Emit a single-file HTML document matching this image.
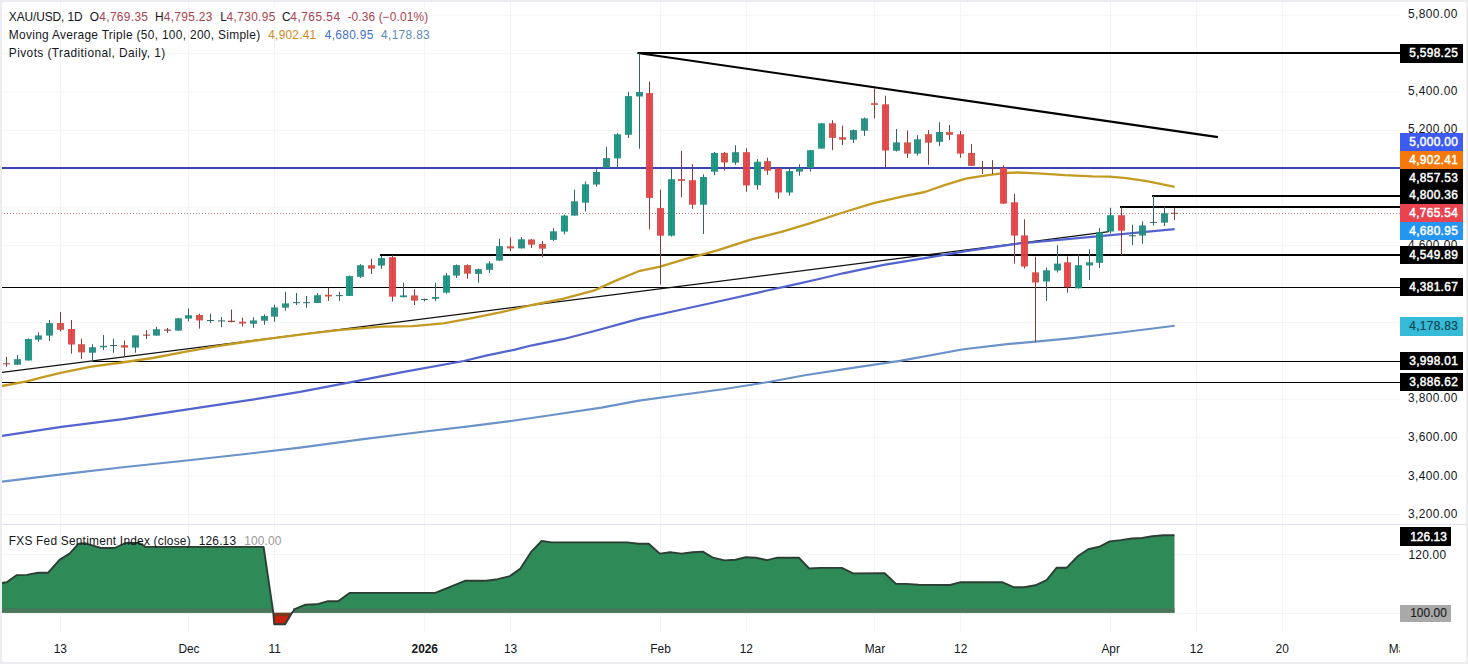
<!DOCTYPE html>
<html><head><meta charset="utf-8"><title>XAU/USD</title>
<style>
html,body{margin:0;padding:0;background:#fff;}
body{width:1468px;height:664px;overflow:hidden;position:relative;font-family:"Liberation Sans",sans-serif;color:#131722;}
#frame{position:absolute;left:0;top:0;width:1468px;height:664px;box-sizing:border-box;border:2px solid #ececf1;border-radius:5px;box-shadow:0 0 0 5px #ececf1;pointer-events:none;z-index:9}
#plot{position:absolute;left:0;top:0;width:1400px;height:664px;overflow:hidden}
.sep{position:absolute;left:0;top:524px;width:1466px;height:1px;background:#e0e3eb}
.sg{position:absolute;line-height:16px;height:16px;white-space:pre;font-family:"Liberation Sans",sans-serif}
.lb{position:absolute;left:1400px;overflow:hidden}
.lt{-webkit-text-stroke:0.45px currentColor}
.lt2{-webkit-text-stroke:0.15px currentColor}
</style></head><body>
<div id="plot">
<svg width="1400" height="664" viewBox="0 0 1400 664" style="position:absolute;left:0;top:0">
<line x1="60.5" y1="2" x2="60.5" y2="632" stroke="#f3f4f6" stroke-width="1"/>
<line x1="188.5" y1="2" x2="188.5" y2="632" stroke="#f3f4f6" stroke-width="1"/>
<line x1="274.5" y1="2" x2="274.5" y2="632" stroke="#f3f4f6" stroke-width="1"/>
<line x1="424.5" y1="2" x2="424.5" y2="632" stroke="#f3f4f6" stroke-width="1"/>
<line x1="510.5" y1="2" x2="510.5" y2="632" stroke="#f3f4f6" stroke-width="1"/>
<line x1="660.5" y1="2" x2="660.5" y2="632" stroke="#f3f4f6" stroke-width="1"/>
<line x1="746.5" y1="2" x2="746.5" y2="632" stroke="#f3f4f6" stroke-width="1"/>
<line x1="874.5" y1="2" x2="874.5" y2="632" stroke="#f3f4f6" stroke-width="1"/>
<line x1="960.5" y1="2" x2="960.5" y2="632" stroke="#f3f4f6" stroke-width="1"/>
<line x1="1110.5" y1="2" x2="1110.5" y2="632" stroke="#f3f4f6" stroke-width="1"/>
<line x1="1196.5" y1="2" x2="1196.5" y2="632" stroke="#f3f4f6" stroke-width="1"/>
<line x1="1282.5" y1="2" x2="1282.5" y2="632" stroke="#f3f4f6" stroke-width="1"/>
<line x1="1400.5" y1="2" x2="1400.5" y2="632" stroke="#f3f4f6" stroke-width="1"/>
<line x1="0" y1="15.20" x2="1400" y2="15.20" stroke="#f3f4f6" stroke-width="1"/>
<line x1="0" y1="53.61" x2="1400" y2="53.61" stroke="#f3f4f6" stroke-width="1"/>
<line x1="0" y1="92.02" x2="1400" y2="92.02" stroke="#f3f4f6" stroke-width="1"/>
<line x1="0" y1="130.42" x2="1400" y2="130.42" stroke="#f3f4f6" stroke-width="1"/>
<line x1="0" y1="168.83" x2="1400" y2="168.83" stroke="#f3f4f6" stroke-width="1"/>
<line x1="0" y1="207.24" x2="1400" y2="207.24" stroke="#f3f4f6" stroke-width="1"/>
<line x1="0" y1="245.65" x2="1400" y2="245.65" stroke="#f3f4f6" stroke-width="1"/>
<line x1="0" y1="284.06" x2="1400" y2="284.06" stroke="#f3f4f6" stroke-width="1"/>
<line x1="0" y1="322.46" x2="1400" y2="322.46" stroke="#f3f4f6" stroke-width="1"/>
<line x1="0" y1="360.87" x2="1400" y2="360.87" stroke="#f3f4f6" stroke-width="1"/>
<line x1="0" y1="399.28" x2="1400" y2="399.28" stroke="#f3f4f6" stroke-width="1"/>
<line x1="0" y1="437.69" x2="1400" y2="437.69" stroke="#f3f4f6" stroke-width="1"/>
<line x1="0" y1="476.10" x2="1400" y2="476.10" stroke="#f3f4f6" stroke-width="1"/>
<line x1="0" y1="514.50" x2="1400" y2="514.50" stroke="#f3f4f6" stroke-width="1"/>
<line x1="0" y1="554.5" x2="1400" y2="554.5" stroke="#f3f4f6" stroke-width="1"/>
<line x1="0" y1="613.5" x2="1400" y2="613.5" stroke="#f3f4f6" stroke-width="1"/>
<defs><clipPath id="up"><rect x="0" y="520" width="1400" height="92.79999999999995"/></clipPath><clipPath id="dn"><rect x="0" y="612.8" width="1400" height="40"/></clipPath></defs>
<polygon points="-2.0,583.0 1.8,583.0 6.7,582.3 16.8,575.1 26.9,574.9 38.1,572.7 48.2,572.7 59.5,559.9 69.6,553.6 78.5,543.7 85.3,543.3 101.0,548.0 114.4,548.0 125.6,543.0 139.1,543.0 145.8,546.9 263.6,546.9 273.3,612.6 274.2,624.3 285.1,624.3 291.7,613.2 295.3,608.8 305.5,604.7 316.8,604.3 328.0,601.2 338.2,601.2 349.5,592.9 435.3,592.9 465.0,580.8 486.4,580.8 497.7,579.2 509.9,576.1 520.1,568.9 531.4,551.6 541.6,541.0 551.8,542.4 627.2,542.4 638.5,543.8 648.7,543.8 659.9,553.6 670.1,552.2 681.4,553.6 692.6,552.2 702.8,551.6 713.1,557.7 724.3,560.4 735.5,559.7 745.8,557.3 756.0,557.7 767.2,560.2 777.4,557.7 798.9,557.7 809.1,568.5 820.4,567.9 841.8,567.9 853.1,573.4 884.7,573.3 896.0,583.9 906.1,583.9 918.5,584.8 949.9,585.0 960.0,582.3 1002.8,582.3 1014.0,587.3 1024.1,587.3 1035.4,585.3 1046.6,580.1 1056.7,567.7 1066.8,567.7 1078.1,556.0 1088.2,549.3 1099.4,546.8 1109.6,541.4 1120.8,540.1 1132.0,538.5 1142.2,538.0 1152.3,536.2 1163.5,535.3 1174.5,535.3 1174.5,612.8 -2,612.8" fill="#2e8b57" clip-path="url(#up)"/>
<polygon points="-2.0,583.0 1.8,583.0 6.7,582.3 16.8,575.1 26.9,574.9 38.1,572.7 48.2,572.7 59.5,559.9 69.6,553.6 78.5,543.7 85.3,543.3 101.0,548.0 114.4,548.0 125.6,543.0 139.1,543.0 145.8,546.9 263.6,546.9 273.3,612.6 274.2,624.3 285.1,624.3 291.7,613.2 295.3,608.8 305.5,604.7 316.8,604.3 328.0,601.2 338.2,601.2 349.5,592.9 435.3,592.9 465.0,580.8 486.4,580.8 497.7,579.2 509.9,576.1 520.1,568.9 531.4,551.6 541.6,541.0 551.8,542.4 627.2,542.4 638.5,543.8 648.7,543.8 659.9,553.6 670.1,552.2 681.4,553.6 692.6,552.2 702.8,551.6 713.1,557.7 724.3,560.4 735.5,559.7 745.8,557.3 756.0,557.7 767.2,560.2 777.4,557.7 798.9,557.7 809.1,568.5 820.4,567.9 841.8,567.9 853.1,573.4 884.7,573.3 896.0,583.9 906.1,583.9 918.5,584.8 949.9,585.0 960.0,582.3 1002.8,582.3 1014.0,587.3 1024.1,587.3 1035.4,585.3 1046.6,580.1 1056.7,567.7 1066.8,567.7 1078.1,556.0 1088.2,549.3 1099.4,546.8 1109.6,541.4 1120.8,540.1 1132.0,538.5 1142.2,538.0 1152.3,536.2 1163.5,535.3 1174.5,535.3 1174.5,612.8 -2,612.8" fill="#c8200c" clip-path="url(#dn)"/>
<rect x="0" y="608.3" width="271.5" height="4.5" fill="#47775a"/>
<rect x="293" y="608.3" width="881.5" height="4.5" fill="#47775a"/>
<rect x="273.5" y="612.8" width="17" height="3.4" fill="#7a3a1c"/>
<polyline points="-2.0,583.0 1.8,583.0 6.7,582.3 16.8,575.1 26.9,574.9 38.1,572.7 48.2,572.7 59.5,559.9 69.6,553.6 78.5,543.7 85.3,543.3 101.0,548.0 114.4,548.0 125.6,543.0 139.1,543.0 145.8,546.9 263.6,546.9 273.3,612.6 274.2,624.3 285.1,624.3 291.7,613.2 295.3,608.8 305.5,604.7 316.8,604.3 328.0,601.2 338.2,601.2 349.5,592.9 435.3,592.9 465.0,580.8 486.4,580.8 497.7,579.2 509.9,576.1 520.1,568.9 531.4,551.6 541.6,541.0 551.8,542.4 627.2,542.4 638.5,543.8 648.7,543.8 659.9,553.6 670.1,552.2 681.4,553.6 692.6,552.2 702.8,551.6 713.1,557.7 724.3,560.4 735.5,559.7 745.8,557.3 756.0,557.7 767.2,560.2 777.4,557.7 798.9,557.7 809.1,568.5 820.4,567.9 841.8,567.9 853.1,573.4 884.7,573.3 896.0,583.9 906.1,583.9 918.5,584.8 949.9,585.0 960.0,582.3 1002.8,582.3 1014.0,587.3 1024.1,587.3 1035.4,585.3 1046.6,580.1 1056.7,567.7 1066.8,567.7 1078.1,556.0 1088.2,549.3 1099.4,546.8 1109.6,541.4 1120.8,540.1 1132.0,538.5 1142.2,538.0 1152.3,536.2 1163.5,535.3 1174.5,535.3" fill="none" stroke="#2b3f35" stroke-width="1.9" stroke-linejoin="round"/>
<line x1="1" y1="213.5" x2="1400" y2="213.5" stroke="#c48682" stroke-width="1" stroke-dasharray="1 2"/>
<rect x="0" y="167" width="1400" height="2" fill="#3c42b4"/>
<rect x="637.5" y="52" width="762.5" height="2" fill="#000"/>
<rect x="380" y="254" width="1020" height="2" fill="#000"/>
<rect x="0" y="287" width="1400" height="1" fill="#000"/>
<rect x="92.6" y="361" width="1307.4" height="1" fill="#000"/>
<rect x="0" y="382" width="1400" height="1" fill="#000"/>
<rect x="1152" y="195" width="248" height="2" fill="#000"/>
<rect x="1120" y="206" width="280" height="2" fill="#000"/>
<line x1="637.7" y1="53" x2="1218" y2="137.1" stroke="#000" stroke-width="2.1" stroke-linecap="butt"/>
<line x1="0" y1="372.7" x2="1109" y2="231.7" stroke="#111" stroke-width="1.25"/>
<polyline points="2.0,481.6 61.4,474.4 122.9,467.3 184.3,460.7 245.8,454.0 300.0,447.6 361.4,439.4 422.9,431.8 468.6,426.4 511.1,421.0 557.1,414.3 601.4,407.6 638.9,400.6 681.9,394.7 722.9,389.2 770.0,381.8 804.8,375.2 856.0,367.4 900.0,360.9 963.5,349.3 1007.1,344.1 1035.7,341.6 1072.5,338.1 1127.0,331.8 1174.7,325.8" fill="none" stroke="#6b93c9" stroke-width="2.1" stroke-linejoin="round"/>
<polyline points="2.0,435.9 61.4,426.9 122.9,419.1 184.3,409.9 245.8,400.7 300.0,391.8 351.2,382.1 402.4,372.2 463.8,361.0 487.1,355.4 515.0,349.6 532.2,345.3 562.9,339.2 593.6,331.3 638.9,318.9 681.9,309.5 722.9,300.5 763.8,291.3 789.6,285.6 821.2,278.5 842.9,273.3 883.8,264.9 924.8,258.1 965.8,251.2 1018.0,243.6 1072.5,238.6 1127.0,233.7 1174.7,229.1" fill="none" stroke="#5364cf" stroke-width="2.2" stroke-linejoin="round"/>
<polyline points="2.0,386.0 26.6,381.3 40.0,377.8 60.5,372.9 91.2,366.6 121.9,362.5 152.6,358.0 183.4,352.2 214.1,346.7 244.8,342.0 275.5,337.9 306.2,333.8 341.0,329.8 381.9,326.6 412.6,326.1 443.4,323.4 470.7,318.3 501.4,312.2 532.2,305.0 562.9,298.8 593.6,290.7 614.1,281.4 638.7,271.2 660.2,266.7 685.8,258.9 716.5,250.7 750.7,239.6 781.4,231.9 812.2,222.7 842.9,212.5 873.6,203.2 904.3,196.1 924.8,192.0 945.3,184.8 965.8,178.7 986.2,175.3 1003.6,173.2 1017.2,172.5 1037.7,173.4 1064.9,175.2 1092.2,176.3 1109.9,176.6 1126.2,178.2 1146.7,181.1 1160.3,183.8 1174.6,186.8" fill="none" stroke="#c39a22" stroke-width="2.3" stroke-linejoin="round"/>
<rect x="6" y="356.90" width="1" height="9.90" fill="#8c3b36"/>
<rect x="3" y="363.30" width="7" height="1.00" fill="#8c3b36" fill-opacity="0.94"/>
<rect x="17" y="355.10" width="1" height="9.60" fill="#2f6566"/>
<rect x="14" y="359.20" width="7" height="5.50" fill="#238a7e" fill-opacity="0.94"/>
<rect x="28" y="338.50" width="1" height="22.00" fill="#2f6566"/>
<rect x="25" y="339.00" width="7" height="21.50" fill="#17937f" fill-opacity="0.94"/>
<rect x="38" y="332.20" width="1" height="9.60" fill="#2f6566"/>
<rect x="35" y="335.40" width="7" height="4.30" fill="#238a7e" fill-opacity="0.94"/>
<rect x="49" y="320.00" width="1" height="21.00" fill="#2f6566"/>
<rect x="46" y="323.10" width="7" height="12.50" fill="#238a7e" fill-opacity="0.94"/>
<rect x="60" y="312.00" width="1" height="19.50" fill="#8c3b36"/>
<rect x="57" y="323.00" width="7" height="6.80" fill="#d54b43" fill-opacity="0.94"/>
<rect x="71" y="320.00" width="1" height="33.70" fill="#8c3b36"/>
<rect x="68" y="329.00" width="7" height="15.50" fill="#e24244" fill-opacity="0.94"/>
<rect x="81" y="338.80" width="1" height="20.00" fill="#8c3b36"/>
<rect x="78" y="344.20" width="7" height="8.20" fill="#d54b43" fill-opacity="0.94"/>
<rect x="92" y="344.20" width="1" height="15.80" fill="#2f6566"/>
<rect x="89" y="347.20" width="7" height="5.50" fill="#238a7e" fill-opacity="0.94"/>
<rect x="103" y="335.00" width="1" height="15.00" fill="#2f6566"/>
<rect x="100" y="345.80" width="7" height="1.50" fill="#238a7e" fill-opacity="0.94"/>
<rect x="113" y="338.80" width="1" height="13.90" fill="#2f6566"/>
<rect x="110" y="345.00" width="7" height="1.00" fill="#2f6566" fill-opacity="0.94"/>
<rect x="124" y="340.40" width="1" height="16.30" fill="#8c3b36"/>
<rect x="121" y="345.20" width="7" height="2.40" fill="#d54b43" fill-opacity="0.94"/>
<rect x="135" y="335.40" width="1" height="17.30" fill="#2f6566"/>
<rect x="132" y="335.40" width="7" height="12.20" fill="#238a7e" fill-opacity="0.94"/>
<rect x="146" y="330.00" width="1" height="9.00" fill="#8c3b36"/>
<rect x="143" y="334.60" width="7" height="1.00" fill="#8c3b36" fill-opacity="0.94"/>
<rect x="156" y="326.80" width="1" height="8.80" fill="#2f6566"/>
<rect x="153" y="329.20" width="7" height="6.40" fill="#238a7e" fill-opacity="0.94"/>
<rect x="167" y="328.00" width="1" height="5.00" fill="#8c3b36"/>
<rect x="164" y="329.50" width="7" height="1.20" fill="#8c3b36" fill-opacity="0.94"/>
<rect x="178" y="318.00" width="1" height="13.00" fill="#2f6566"/>
<rect x="175" y="318.30" width="7" height="12.30" fill="#238a7e" fill-opacity="0.94"/>
<rect x="188" y="308.40" width="1" height="12.90" fill="#2f6566"/>
<rect x="185" y="315.20" width="7" height="3.40" fill="#238a7e" fill-opacity="0.94"/>
<rect x="199" y="313.60" width="1" height="15.00" fill="#8c3b36"/>
<rect x="196" y="315.00" width="7" height="5.40" fill="#d54b43" fill-opacity="0.94"/>
<rect x="210" y="313.60" width="1" height="9.40" fill="#2f6566"/>
<rect x="207" y="320.00" width="7" height="1.00" fill="#2f6566" fill-opacity="0.94"/>
<rect x="221" y="317.00" width="1" height="10.20" fill="#2f6566"/>
<rect x="218" y="320.40" width="7" height="1.00" fill="#2f6566" fill-opacity="0.94"/>
<rect x="231" y="309.50" width="1" height="12.90" fill="#8c3b36"/>
<rect x="228" y="320.70" width="7" height="1.30" fill="#8c3b36" fill-opacity="0.94"/>
<rect x="242" y="317.70" width="1" height="8.80" fill="#8c3b36"/>
<rect x="239" y="321.70" width="7" height="1.90" fill="#d54b43" fill-opacity="0.94"/>
<rect x="253" y="317.40" width="1" height="10.50" fill="#2f6566"/>
<rect x="250" y="320.40" width="7" height="3.40" fill="#238a7e" fill-opacity="0.94"/>
<rect x="264" y="314.30" width="1" height="10.40" fill="#2f6566"/>
<rect x="261" y="316.00" width="7" height="4.70" fill="#238a7e" fill-opacity="0.94"/>
<rect x="274" y="304.70" width="1" height="17.00" fill="#2f6566"/>
<rect x="271" y="307.40" width="7" height="9.30" fill="#238a7e" fill-opacity="0.94"/>
<rect x="285" y="291.80" width="1" height="19.00" fill="#2f6566"/>
<rect x="282" y="303.40" width="7" height="4.30" fill="#238a7e" fill-opacity="0.94"/>
<rect x="296" y="293.00" width="1" height="12.00" fill="#2f6566"/>
<rect x="293" y="302.20" width="7" height="1.00" fill="#2f6566" fill-opacity="0.94"/>
<rect x="306" y="296.00" width="1" height="11.70" fill="#2f6566"/>
<rect x="303" y="302.20" width="7" height="1.00" fill="#2f6566" fill-opacity="0.94"/>
<rect x="317" y="293.00" width="1" height="10.00" fill="#2f6566"/>
<rect x="314" y="295.20" width="7" height="7.80" fill="#238a7e" fill-opacity="0.94"/>
<rect x="328" y="287.70" width="1" height="13.20" fill="#8c3b36"/>
<rect x="325" y="294.80" width="7" height="1.70" fill="#d54b43" fill-opacity="0.94"/>
<rect x="339" y="291.80" width="1" height="9.10" fill="#2f6566"/>
<rect x="336" y="295.10" width="7" height="1.00" fill="#2f6566" fill-opacity="0.94"/>
<rect x="349" y="275.50" width="1" height="20.50" fill="#2f6566"/>
<rect x="346" y="276.10" width="7" height="19.80" fill="#17937f" fill-opacity="0.94"/>
<rect x="360" y="264.20" width="1" height="13.70" fill="#2f6566"/>
<rect x="357" y="265.20" width="7" height="11.60" fill="#238a7e" fill-opacity="0.94"/>
<rect x="371" y="258.80" width="1" height="15.20" fill="#8c3b36"/>
<rect x="368" y="265.20" width="7" height="3.40" fill="#d54b43" fill-opacity="0.94"/>
<rect x="381" y="256.00" width="1" height="12.90" fill="#2f6566"/>
<rect x="378" y="258.10" width="7" height="7.50" fill="#238a7e" fill-opacity="0.94"/>
<rect x="392" y="255.20" width="1" height="46.30" fill="#8c3b36"/>
<rect x="389" y="257.20" width="7" height="39.50" fill="#e24244" fill-opacity="0.94"/>
<rect x="403" y="282.70" width="1" height="14.70" fill="#2f6566"/>
<rect x="400" y="295.40" width="7" height="1.80" fill="#238a7e" fill-opacity="0.94"/>
<rect x="414" y="289.30" width="1" height="15.70" fill="#8c3b36"/>
<rect x="411" y="295.40" width="7" height="5.20" fill="#d54b43" fill-opacity="0.94"/>
<rect x="424" y="298.60" width="1" height="2.70" fill="#2f6566"/>
<rect x="421" y="299.00" width="7" height="1.00" fill="#2f6566" fill-opacity="0.94"/>
<rect x="435" y="282.70" width="1" height="18.40" fill="#2f6566"/>
<rect x="432" y="297.00" width="7" height="1.80" fill="#238a7e" fill-opacity="0.94"/>
<rect x="446" y="272.90" width="1" height="20.80" fill="#2f6566"/>
<rect x="443" y="275.40" width="7" height="17.30" fill="#17937f" fill-opacity="0.94"/>
<rect x="456" y="264.50" width="1" height="13.50" fill="#2f6566"/>
<rect x="453" y="265.10" width="7" height="10.50" fill="#238a7e" fill-opacity="0.94"/>
<rect x="467" y="264.30" width="1" height="14.50" fill="#8c3b36"/>
<rect x="464" y="265.10" width="7" height="8.50" fill="#d54b43" fill-opacity="0.94"/>
<rect x="478" y="268.50" width="1" height="14.20" fill="#2f6566"/>
<rect x="475" y="269.20" width="7" height="4.70" fill="#238a7e" fill-opacity="0.94"/>
<rect x="489" y="261.30" width="1" height="11.60" fill="#2f6566"/>
<rect x="486" y="263.40" width="7" height="6.40" fill="#238a7e" fill-opacity="0.94"/>
<rect x="499" y="238.80" width="1" height="22.20" fill="#2f6566"/>
<rect x="496" y="246.10" width="7" height="14.50" fill="#238a7e" fill-opacity="0.94"/>
<rect x="510" y="237.50" width="1" height="13.60" fill="#8c3b36"/>
<rect x="507" y="246.30" width="7" height="2.10" fill="#d54b43" fill-opacity="0.94"/>
<rect x="521" y="237.10" width="1" height="11.30" fill="#2f6566"/>
<rect x="518" y="239.30" width="7" height="9.10" fill="#238a7e" fill-opacity="0.94"/>
<rect x="531" y="239.00" width="1" height="9.00" fill="#8c3b36"/>
<rect x="528" y="239.50" width="7" height="5.20" fill="#d54b43" fill-opacity="0.94"/>
<rect x="542" y="240.90" width="1" height="16.30" fill="#8c3b36"/>
<rect x="539" y="244.00" width="7" height="4.70" fill="#d54b43" fill-opacity="0.94"/>
<rect x="553" y="228.20" width="1" height="12.70" fill="#2f6566"/>
<rect x="550" y="231.30" width="7" height="8.60" fill="#238a7e" fill-opacity="0.94"/>
<rect x="564" y="214.60" width="1" height="19.70" fill="#2f6566"/>
<rect x="561" y="215.60" width="7" height="16.00" fill="#17937f" fill-opacity="0.94"/>
<rect x="574" y="189.70" width="1" height="25.90" fill="#2f6566"/>
<rect x="571" y="201.30" width="7" height="14.30" fill="#238a7e" fill-opacity="0.94"/>
<rect x="585" y="181.50" width="1" height="30.00" fill="#2f6566"/>
<rect x="582" y="184.30" width="7" height="18.40" fill="#17937f" fill-opacity="0.94"/>
<rect x="596" y="169.30" width="1" height="17.30" fill="#2f6566"/>
<rect x="593" y="172.00" width="7" height="12.50" fill="#238a7e" fill-opacity="0.94"/>
<rect x="606" y="146.80" width="1" height="21.20" fill="#2f6566"/>
<rect x="603" y="158.10" width="7" height="9.80" fill="#238a7e" fill-opacity="0.94"/>
<rect x="617" y="133.20" width="1" height="35.40" fill="#2f6566"/>
<rect x="614" y="134.30" width="7" height="24.10" fill="#17937f" fill-opacity="0.94"/>
<rect x="628" y="91.80" width="1" height="46.20" fill="#2f6566"/>
<rect x="625" y="96.10" width="7" height="38.70" fill="#17937f" fill-opacity="0.94"/>
<rect x="639" y="53.20" width="1" height="95.60" fill="#2f6566"/>
<rect x="636" y="92.00" width="7" height="4.50" fill="#238a7e" fill-opacity="0.94"/>
<rect x="649" y="81.60" width="1" height="147.70" fill="#8c3b36"/>
<rect x="646" y="93.10" width="7" height="104.80" fill="#e24244" fill-opacity="0.94"/>
<rect x="660" y="189.70" width="1" height="95.00" fill="#8c3b36"/>
<rect x="657" y="208.10" width="7" height="27.60" fill="#e24244" fill-opacity="0.94"/>
<rect x="671" y="167.90" width="1" height="68.70" fill="#2f6566"/>
<rect x="668" y="179.20" width="7" height="56.50" fill="#17937f" fill-opacity="0.94"/>
<rect x="681" y="150.90" width="1" height="46.30" fill="#8c3b36"/>
<rect x="678" y="179.10" width="7" height="1.80" fill="#d54b43" fill-opacity="0.94"/>
<rect x="692" y="164.20" width="1" height="44.60" fill="#8c3b36"/>
<rect x="689" y="180.20" width="7" height="24.50" fill="#e24244" fill-opacity="0.94"/>
<rect x="703" y="174.30" width="1" height="59.60" fill="#2f6566"/>
<rect x="700" y="177.00" width="7" height="27.70" fill="#17937f" fill-opacity="0.94"/>
<rect x="714" y="152.00" width="1" height="23.10" fill="#2f6566"/>
<rect x="711" y="152.90" width="7" height="18.80" fill="#17937f" fill-opacity="0.94"/>
<rect x="724" y="152.00" width="1" height="18.60" fill="#8c3b36"/>
<rect x="721" y="152.90" width="7" height="9.60" fill="#d54b43" fill-opacity="0.94"/>
<rect x="735" y="145.20" width="1" height="19.60" fill="#2f6566"/>
<rect x="732" y="152.20" width="7" height="10.50" fill="#238a7e" fill-opacity="0.94"/>
<rect x="746" y="148.40" width="1" height="43.40" fill="#8c3b36"/>
<rect x="743" y="152.20" width="7" height="33.20" fill="#e24244" fill-opacity="0.94"/>
<rect x="757" y="159.10" width="1" height="30.60" fill="#2f6566"/>
<rect x="754" y="161.80" width="7" height="23.40" fill="#17937f" fill-opacity="0.94"/>
<rect x="767" y="157.70" width="1" height="17.00" fill="#8c3b36"/>
<rect x="764" y="161.10" width="7" height="9.60" fill="#d54b43" fill-opacity="0.94"/>
<rect x="778" y="168.00" width="1" height="30.60" fill="#8c3b36"/>
<rect x="775" y="168.60" width="7" height="23.90" fill="#e24244" fill-opacity="0.94"/>
<rect x="789" y="167.20" width="1" height="28.40" fill="#2f6566"/>
<rect x="786" y="171.10" width="7" height="21.40" fill="#17937f" fill-opacity="0.94"/>
<rect x="799" y="164.30" width="1" height="11.40" fill="#2f6566"/>
<rect x="796" y="167.90" width="7" height="3.70" fill="#238a7e" fill-opacity="0.94"/>
<rect x="810" y="150.00" width="1" height="21.60" fill="#2f6566"/>
<rect x="807" y="150.20" width="7" height="17.70" fill="#17937f" fill-opacity="0.94"/>
<rect x="821" y="123.00" width="1" height="25.60" fill="#2f6566"/>
<rect x="818" y="123.30" width="7" height="25.30" fill="#17937f" fill-opacity="0.94"/>
<rect x="832" y="120.20" width="1" height="30.00" fill="#8c3b36"/>
<rect x="829" y="123.30" width="7" height="14.60" fill="#d54b43" fill-opacity="0.94"/>
<rect x="842" y="125.60" width="1" height="19.50" fill="#8c3b36"/>
<rect x="839" y="137.20" width="7" height="2.50" fill="#d54b43" fill-opacity="0.94"/>
<rect x="853" y="129.50" width="1" height="13.50" fill="#2f6566"/>
<rect x="850" y="130.10" width="7" height="9.60" fill="#238a7e" fill-opacity="0.94"/>
<rect x="864" y="117.50" width="1" height="18.40" fill="#2f6566"/>
<rect x="861" y="118.40" width="7" height="12.30" fill="#238a7e" fill-opacity="0.94"/>
<rect x="874" y="88.20" width="1" height="30.20" fill="#8c3b36"/>
<rect x="871" y="103.20" width="7" height="1.70" fill="#d54b43" fill-opacity="0.94"/>
<rect x="885" y="95.70" width="1" height="72.20" fill="#8c3b36"/>
<rect x="882" y="104.30" width="7" height="46.20" fill="#e24244" fill-opacity="0.94"/>
<rect x="896" y="129.00" width="1" height="22.50" fill="#2f6566"/>
<rect x="893" y="142.40" width="7" height="8.40" fill="#238a7e" fill-opacity="0.94"/>
<rect x="907" y="130.40" width="1" height="27.50" fill="#8c3b36"/>
<rect x="904" y="142.40" width="7" height="11.20" fill="#d54b43" fill-opacity="0.94"/>
<rect x="917" y="135.20" width="1" height="20.40" fill="#2f6566"/>
<rect x="914" y="139.30" width="7" height="14.30" fill="#238a7e" fill-opacity="0.94"/>
<rect x="928" y="130.10" width="1" height="34.70" fill="#8c3b36"/>
<rect x="925" y="134.20" width="7" height="8.50" fill="#d54b43" fill-opacity="0.94"/>
<rect x="939" y="122.20" width="1" height="23.90" fill="#2f6566"/>
<rect x="936" y="132.00" width="7" height="9.80" fill="#238a7e" fill-opacity="0.94"/>
<rect x="949" y="125.00" width="1" height="15.00" fill="#8c3b36"/>
<rect x="946" y="132.10" width="7" height="2.80" fill="#d54b43" fill-opacity="0.94"/>
<rect x="960" y="131.10" width="1" height="26.60" fill="#8c3b36"/>
<rect x="957" y="134.30" width="7" height="19.30" fill="#e24244" fill-opacity="0.94"/>
<rect x="971" y="144.10" width="1" height="21.90" fill="#8c3b36"/>
<rect x="968" y="152.90" width="7" height="13.00" fill="#d54b43" fill-opacity="0.94"/>
<rect x="982" y="161.10" width="1" height="12.90" fill="#8c3b36"/>
<rect x="979" y="167.40" width="7" height="1.00" fill="#8c3b36" fill-opacity="0.94"/>
<rect x="992" y="160.10" width="1" height="13.90" fill="#8c3b36"/>
<rect x="989" y="167.40" width="7" height="1.00" fill="#8c3b36" fill-opacity="0.94"/>
<rect x="1003" y="165.20" width="1" height="38.80" fill="#8c3b36"/>
<rect x="1000" y="167.90" width="7" height="35.70" fill="#e24244" fill-opacity="0.94"/>
<rect x="1014" y="193.80" width="1" height="69.80" fill="#8c3b36"/>
<rect x="1011" y="202.30" width="7" height="33.30" fill="#e24244" fill-opacity="0.94"/>
<rect x="1024" y="219.30" width="1" height="49.20" fill="#8c3b36"/>
<rect x="1021" y="235.40" width="7" height="31.10" fill="#e24244" fill-opacity="0.94"/>
<rect x="1035" y="256.80" width="1" height="84.90" fill="#8c3b36"/>
<rect x="1032" y="272.30" width="7" height="10.20" fill="#d54b43" fill-opacity="0.94"/>
<rect x="1046" y="267.50" width="1" height="33.40" fill="#2f6566"/>
<rect x="1043" y="270.30" width="7" height="11.20" fill="#238a7e" fill-opacity="0.94"/>
<rect x="1057" y="245.20" width="1" height="27.30" fill="#2f6566"/>
<rect x="1054" y="263.60" width="7" height="6.90" fill="#238a7e" fill-opacity="0.94"/>
<rect x="1067" y="256.30" width="1" height="36.40" fill="#8c3b36"/>
<rect x="1064" y="262.30" width="7" height="24.90" fill="#e24244" fill-opacity="0.94"/>
<rect x="1078" y="255.10" width="1" height="33.40" fill="#2f6566"/>
<rect x="1075" y="265.20" width="7" height="23.10" fill="#17937f" fill-opacity="0.94"/>
<rect x="1089" y="249.30" width="1" height="30.50" fill="#2f6566"/>
<rect x="1086" y="262.30" width="7" height="3.20" fill="#238a7e" fill-opacity="0.94"/>
<rect x="1099" y="228.10" width="1" height="39.90" fill="#2f6566"/>
<rect x="1096" y="232.20" width="7" height="30.60" fill="#17937f" fill-opacity="0.94"/>
<rect x="1110" y="207.80" width="1" height="25.70" fill="#2f6566"/>
<rect x="1107" y="215.20" width="7" height="16.30" fill="#17937f" fill-opacity="0.94"/>
<rect x="1121" y="207.30" width="1" height="47.70" fill="#8c3b36"/>
<rect x="1118" y="215.20" width="7" height="15.50" fill="#e24244" fill-opacity="0.94"/>
<rect x="1132" y="224.70" width="1" height="20.40" fill="#2f6566"/>
<rect x="1129" y="235.30" width="7" height="1.00" fill="#2f6566" fill-opacity="0.94"/>
<rect x="1142" y="221.30" width="1" height="22.40" fill="#2f6566"/>
<rect x="1139" y="225.40" width="7" height="10.20" fill="#238a7e" fill-opacity="0.94"/>
<rect x="1153" y="196.00" width="1" height="29.40" fill="#2f6566"/>
<rect x="1150" y="221.90" width="7" height="1.00" fill="#2f6566" fill-opacity="0.94"/>
<rect x="1164" y="207.10" width="1" height="19.00" fill="#2f6566"/>
<rect x="1161" y="213.20" width="7" height="9.50" fill="#238a7e" fill-opacity="0.94"/>
<rect x="1174" y="207.80" width="1" height="12.20" fill="#8c3b36"/>
<rect x="1171" y="212.80" width="7" height="1.00" fill="#8c3b36" fill-opacity="0.94"/>
</svg>
<div class="sg" style="left:53.76px;top:641.00px;font-size:11.9px;letter-spacing:0.000px;color:#131722;">13</div>
<div class="sg" style="left:178.41px;top:641.00px;font-size:11.9px;letter-spacing:0.000px;color:#131722;">Dec</div>
<div class="sg" style="left:268.56px;top:641.00px;font-size:11.9px;letter-spacing:0.000px;color:#131722;">11</div>
<div class="sg" style="left:411.54px;top:641.00px;font-size:11.9px;letter-spacing:0.000px;color:#131722;font-weight:bold;">2026</div>
<div class="sg" style="left:503.89px;top:641.00px;font-size:11.9px;letter-spacing:0.000px;color:#131722;">13</div>
<div class="sg" style="left:650.30px;top:641.00px;font-size:11.9px;letter-spacing:0.000px;color:#131722;">Feb</div>
<div class="sg" style="left:739.68px;top:641.00px;font-size:11.9px;letter-spacing:0.000px;color:#131722;">12</div>
<div class="sg" style="left:864.66px;top:641.00px;font-size:11.9px;letter-spacing:0.000px;color:#131722;">Mar</div>
<div class="sg" style="left:954.02px;top:641.00px;font-size:11.9px;letter-spacing:0.000px;color:#131722;">12</div>
<div class="sg" style="left:1101.43px;top:641.00px;font-size:11.9px;letter-spacing:0.000px;color:#131722;">Apr</div>
<div class="sg" style="left:1189.81px;top:641.00px;font-size:11.9px;letter-spacing:0.000px;color:#131722;">12</div>
<div class="sg" style="left:1275.55px;top:641.00px;font-size:11.9px;letter-spacing:0.000px;color:#131722;">20</div>
<div class="sg" style="left:1388.82px;top:641.00px;font-size:11.9px;letter-spacing:0.000px;color:#131722;">May</div>
</div>
<div class="sep"></div>
<div class="sg" style="left:8.80px;top:9.00px;font-size:11.9px;letter-spacing:-0.087px;color:#131722;">XAU/USD, 1D</div>
<div class="sg" style="left:89.80px;top:9.00px;font-size:11.9px;letter-spacing:0.000px;color:#131722;">O</div>
<div class="sg" style="left:99.30px;top:9.00px;font-size:11.9px;letter-spacing:0.343px;color:#a8444f;">4,769.35</div>
<div class="sg" style="left:155.00px;top:9.00px;font-size:11.9px;letter-spacing:0.000px;color:#131722;">H</div>
<div class="sg" style="left:163.70px;top:9.00px;font-size:11.9px;letter-spacing:0.343px;color:#a8444f;">4,795.23</div>
<div class="sg" style="left:220.20px;top:9.00px;font-size:11.9px;letter-spacing:0.000px;color:#131722;">L</div>
<div class="sg" style="left:226.50px;top:9.00px;font-size:11.9px;letter-spacing:0.372px;color:#a8444f;">4,730.95</div>
<div class="sg" style="left:282.00px;top:9.00px;font-size:11.9px;letter-spacing:0.000px;color:#131722;">C</div>
<div class="sg" style="left:290.30px;top:9.00px;font-size:11.9px;letter-spacing:0.500px;color:#a8444f;">4,765.54</div>
<div class="sg" style="left:347.50px;top:9.00px;font-size:11.9px;letter-spacing:0.131px;color:#a8444f;">-0.36 (−0.01%)</div>
<div class="sg" style="left:8.80px;top:27.00px;font-size:11.9px;letter-spacing:0.318px;color:#131722;">Moving Average Triple (50, 100, 200, Simple)</div>
<div class="sg" style="left:268.30px;top:27.00px;font-size:11.9px;letter-spacing:0.215px;color:#d18a1c;">4,902.41</div>
<div class="sg" style="left:324.70px;top:27.00px;font-size:11.9px;letter-spacing:0.329px;color:#3f6fd1;">4,680.95</div>
<div class="sg" style="left:381.10px;top:27.00px;font-size:11.9px;letter-spacing:0.329px;color:#5b8bbd;">4,178.83</div>
<div class="sg" style="left:8.80px;top:45.00px;font-size:11.9px;letter-spacing:0.425px;color:#131722;">Pivots (Traditional, Daily, 1)</div>
<div class="sg" style="left:8.80px;top:533.00px;font-size:11.9px;letter-spacing:0.222px;color:#131722;">FXS Fed Sentiment Index (close)</div>
<div class="sg" style="left:198.80px;top:533.00px;font-size:11.9px;letter-spacing:0.165px;color:#131722;">126.13</div>
<div class="sg" style="left:244.20px;top:533.00px;font-size:11.9px;letter-spacing:0.145px;color:#9a9a9a;">100.00</div>
<div class="sg" style="left:1407.90px;top:6.00px;font-size:11.9px;letter-spacing:0.458px;color:#131722;">5,800.00</div>
<div class="sg" style="left:1407.90px;top:83.00px;font-size:11.9px;letter-spacing:0.458px;color:#131722;">5,400.00</div>
<div class="sg" style="left:1407.90px;top:121.00px;font-size:11.9px;letter-spacing:0.458px;color:#131722;">5,200.00</div>
<div class="sg" style="left:1407.90px;top:237.00px;font-size:11.9px;letter-spacing:0.458px;color:#131722;">4,600.00</div>
<div class="sg" style="left:1407.90px;top:390.00px;font-size:11.9px;letter-spacing:0.458px;color:#131722;">3,800.00</div>
<div class="sg" style="left:1407.90px;top:429.00px;font-size:11.9px;letter-spacing:0.458px;color:#131722;">3,600.00</div>
<div class="sg" style="left:1407.90px;top:468.00px;font-size:11.9px;letter-spacing:0.458px;color:#131722;">3,400.00</div>
<div class="sg" style="left:1407.90px;top:506.00px;font-size:11.9px;letter-spacing:0.458px;color:#131722;">3,200.00</div>
<div class="sg" style="left:1408.50px;top:547.00px;font-size:11.9px;letter-spacing:0.225px;color:#131722;">120.00</div>
<div class="lb" style="top:44px;background:#000;width:63px;height:19px"><div class="sg lt" style="left:9.20px;top:1.00px;font-size:11.9px;letter-spacing:0.329px;color:#fff;">5,598.25</div></div>
<div class="lb" style="top:133px;background:#3d5af1;width:63px;height:18px"><div class="sg lt" style="left:9.20px;top:1.00px;font-size:11.9px;letter-spacing:0.329px;color:#fff;">5,000.00</div></div>
<div class="lb" style="top:151px;background:#f5790a;width:63px;height:18px"><div class="sg lt" style="left:9.20px;top:1.00px;font-size:11.9px;letter-spacing:0.329px;color:#fff;">4,902.41</div></div>
<div class="lb" style="top:169px;background:#000;width:63px;height:18px"><div class="sg lt" style="left:9.20px;top:1.00px;font-size:11.9px;letter-spacing:0.329px;color:#fff;">4,857.53</div></div>
<div class="lb" style="top:187px;background:#000;width:63px;height:17px"><div class="sg lt" style="left:9.20px;top:0.00px;font-size:11.9px;letter-spacing:0.329px;color:#fff;">4,800.36</div></div>
<div class="lb" style="top:204px;background:#e8434f;width:63px;height:18px"><div class="sg lt" style="left:9.20px;top:1.00px;font-size:11.9px;letter-spacing:0.329px;color:#fff;">4,765.54</div></div>
<div class="lb" style="top:222px;background:#2595f2;width:63px;height:18px"><div class="sg lt" style="left:9.20px;top:1.00px;font-size:11.9px;letter-spacing:0.329px;color:#fff;">4,680.95</div></div>
<div class="lb" style="top:246px;background:#000;width:63px;height:18px"><div class="sg lt" style="left:9.20px;top:1.00px;font-size:11.9px;letter-spacing:0.329px;color:#fff;">4,549.89</div></div>
<div class="lb" style="top:278px;background:#000;width:63px;height:18px"><div class="sg lt" style="left:9.20px;top:1.00px;font-size:11.9px;letter-spacing:0.329px;color:#fff;">4,381.67</div></div>
<div class="lb" style="top:317px;background:#35bad8;width:63px;height:18.5px"><div class="sg lt2" style="left:9.20px;top:1.00px;font-size:11.9px;letter-spacing:0.329px;color:#103f4d;">4,178.83</div></div>
<div class="lb" style="top:352px;background:#000;width:63px;height:18px"><div class="sg lt" style="left:9.20px;top:1.00px;font-size:11.9px;letter-spacing:0.329px;color:#fff;">3,998.01</div></div>
<div class="lb" style="top:373px;background:#000;width:63px;height:18px"><div class="sg lt" style="left:9.20px;top:1.00px;font-size:11.9px;letter-spacing:0.329px;color:#fff;">3,886.62</div></div>
<div class="lb" style="top:527px;background:#000;width:51px;height:19px"><div class="sg lt" style="left:10.20px;top:2.00px;font-size:11.9px;letter-spacing:0.045px;color:#fff;">126.13</div></div>
<div class="lb" style="top:605px;background:#a9a9a9;width:51px;height:17px"><div class="sg lt2" style="left:10.20px;top:0.00px;font-size:11.9px;letter-spacing:0.045px;color:#1d1d1d;">100.00</div></div>
<div id="frame"></div>
</body></html>
